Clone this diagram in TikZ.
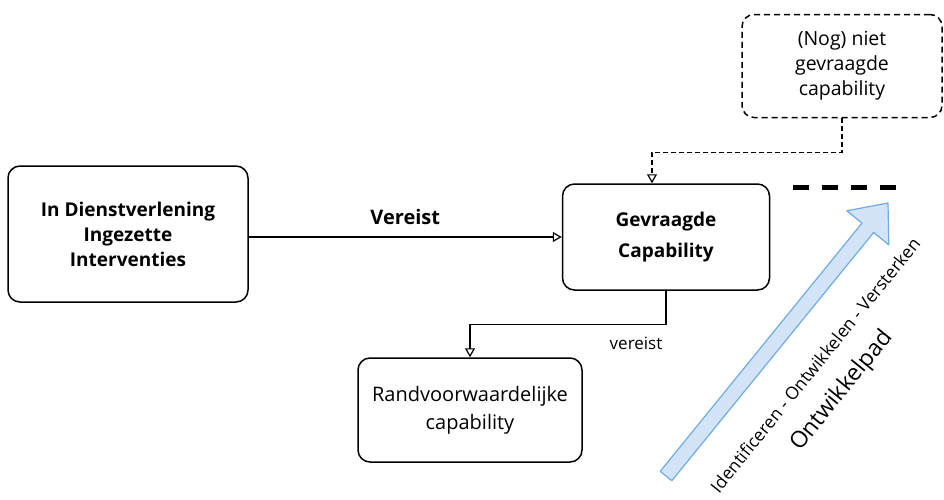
\documentclass[tikz,border=0pt]{standalone}
\usepackage{fontspec}
\setmainfont{Open Sans}
\usetikzlibrary{arrows.meta}
\definecolor{pathfill}{RGB}{212,228,248}
\definecolor{pathdraw}{RGB}{110,172,230}
\begin{document}
\begin{tikzpicture}[x=1pt,y=-1pt,
  box/.style={draw, line width=1.5pt, rounded corners=12pt, align=center, inner sep=4pt},
  conn/.style={line width=1.2pt, -{Triangle[open,length=9pt,width=10pt,line width=1.2pt]}},
  dconn/.style={conn, dash pattern=on 5pt off 3pt},
]
\useasboundingbox (0,0) rectangle (944,499);

\node[box, minimum width=240pt, minimum height=136pt,
      font=\bfseries\fontsize{19}{25}\selectfont] (a) at (128,234)
      {In Dienstverlening\\Ingezette\\Interventies};
\node[box, minimum width=207pt, minimum height=106pt,
      font=\bfseries\fontsize{19}{31}\selectfont] (g) at (666,237)
      {Gevraagde\\Capability};
\node[box, minimum width=224pt, minimum height=104pt,
      font=\fontsize{20}{28}\selectfont] (r) at (470,410)
      {Randvoorwaardelijke\\capability};
\node[box, dash pattern=on 6pt off 4pt, minimum width=200pt, minimum height=103pt,
      font=\fontsize{19.5}{25}\selectfont] (d) at (842,66)
      {(Nog) niet\\gevraagde\\capability};

\draw[conn] (a.east |- g.west) -- (g.west)
  node[midway, above=8pt, font=\bfseries\fontsize{20}{22}\selectfont] (v1) {Vereist};
\draw[conn] (g.south) -- ++(0,34) coordinate (bend) -| (r.north);
\node[font=\fontsize{17}{19}\selectfont] (v2) at (636,343) {vereist};
\draw[dconn] (d.south) -- ++(0,34) -| ([xshift=-14pt]g.north);

% thick dashed line
\draw[line width=5pt, dash pattern=on 16pt off 13pt] (793,187) -- (898,187);

% development arrow
\draw[pathdraw, fill=pathfill, line width=1.2pt, line join=round]
  (660.2,471.3) -- (862.0,223.1) -- (846.8,210.8) -- (888,203)
  -- (888.8,244.8) -- (873.6,232.5) -- (671.8,480.7) -- cycle;

\node[rotate=51, font=\fontsize{17.5}{19}\selectfont] (t1) at (815,365)
  {Identificeren - Ontwikkelen - Versterken};
\node[rotate=51, font=\fontsize{23}{25}\selectfont] (t2) at (842,391)
  {Ontwikkelpad};
\end{tikzpicture}
\end{document}
